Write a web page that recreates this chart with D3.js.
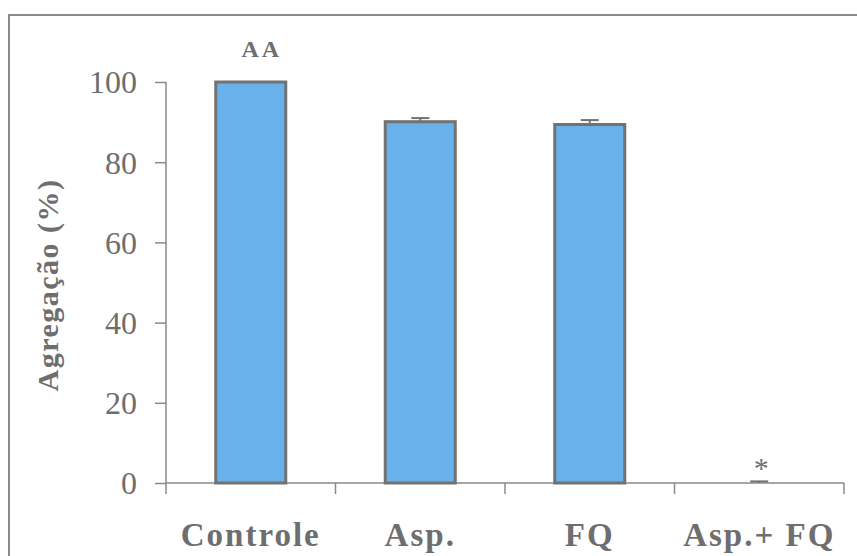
<!DOCTYPE html>
<html>
<head>
<meta charset="utf-8">
<script src="https://cdn.jsdelivr.net/npm/d3@7"></script>
<style>
  html, body { margin: 0; padding: 0; background: #fff; }
  svg { display: block; }
  text { font-family: "Liberation Serif", "Times New Roman", serif; fill: #6e6e6e; }
</style>
</head>
<body>
<svg id="chart" width="857" height="556"></svg>
<script>
// Platelet aggregation (%) per treatment group
const categories = ["Controle", "Asp.", "FQ", "Asp.+ FQ"];
const values = [100, 90.1, 89.4, 0];
const errors = [0, 0.9, 1.1, 0.4];
const marks = ["", "", "", "*"];
const yTicks = [0, 20, 40, 60, 80, 100];
const yTitle = "Agregação (%)";
const topLabel = "AA";

const svg = d3.select("#chart");
const plotLeft = 166, plotRight = 844, plotTop = 82, plotBottom = 483;

const x = d3.scaleBand()
  .domain(categories)
  .range([plotLeft, plotRight])
  .paddingInner(0.587)
  .paddingOuter(0.2935);

const y = d3.scaleLinear().domain([0, 100]).range([plotBottom, plotTop]);

// outer frame (top and left edges)
svg.append("path")
  .attr("d", "M9,556 V15 H857")
  .attr("fill", "none")
  .attr("stroke", "#8a8a8a")
  .attr("stroke-width", 2);

// y axis
const yAxis = svg.append("g")
  .attr("transform", `translate(${plotLeft},0)`)
  .call(d3.axisLeft(y).tickValues(yTicks).tickSize(11).tickPadding(18).tickFormat(d3.format("d")));
yAxis.select(".domain").remove();
yAxis.selectAll(".tick line").attr("stroke", "#8a8a8a").attr("stroke-width", 1.5);
yAxis.selectAll(".tick text")
  .attr("font-size", 32)
  .attr("font-family", "Liberation Serif, serif")
  .attr("fill", "#6e6e6e")
  .attr("dy", "0.34em");
yAxis.append("line")
  .attr("x1", 0).attr("x2", 0)
  .attr("y1", y(100)).attr("y2", plotBottom + 11)
  .attr("stroke", "#8a8a8a").attr("stroke-width", 1.5);

// x axis baseline with ticks at the category boundaries
const boundaries = categories.map(c => x(c) + x.bandwidth() / 2 + x.step() / 2);
svg.append("line")
  .attr("x1", plotLeft).attr("x2", plotRight)
  .attr("y1", plotBottom).attr("y2", plotBottom)
  .attr("stroke", "#8a8a8a").attr("stroke-width", 1.5);
svg.selectAll(".xtick")
  .data(boundaries)
  .join("line")
  .attr("class", "xtick")
  .attr("x1", d => d).attr("x2", d => d)
  .attr("y1", plotBottom).attr("y2", plotBottom + 11)
  .attr("stroke", "#8a8a8a").attr("stroke-width", 1.5);

// category labels
svg.selectAll(".xlabel")
  .data(categories)
  .join("text")
  .attr("class", "xlabel")
  .attr("x", d => x(d) + x.bandwidth() / 2)
  .attr("y", 546)
  .attr("text-anchor", "middle")
  .attr("font-size", 33)
  .attr("font-weight", "bold")
  .attr("letter-spacing", 2)
  .text(d => d);

// bars
const rows = categories.map((c, i) => ({ c, v: values[i], e: errors[i], m: marks[i] }));
svg.selectAll(".bar")
  .data(rows.filter(d => d.v > 0))
  .join("rect")
  .attr("class", "bar")
  .attr("x", d => x(d.c))
  .attr("y", d => y(d.v))
  .attr("width", x.bandwidth())
  .attr("height", d => y(0) - y(d.v))
  .attr("fill", "#68b1ea")
  .attr("stroke", "#727272")
  .attr("stroke-width", 3);

// error bars (upper half)
const capHalf = 9;
const eb = svg.selectAll(".err")
  .data(rows.filter(d => d.e > 0))
  .join("g")
  .attr("class", "err")
  .attr("stroke", "#727272")
  .attr("stroke-width", 2);
eb.append("line")
  .attr("x1", d => x(d.c) + x.bandwidth() / 2)
  .attr("x2", d => x(d.c) + x.bandwidth() / 2)
  .attr("y1", d => y(d.v))
  .attr("y2", d => y(d.v + d.e));
eb.append("line")
  .attr("x1", d => x(d.c) + x.bandwidth() / 2 - capHalf)
  .attr("x2", d => x(d.c) + x.bandwidth() / 2 + capHalf)
  .attr("y1", d => y(d.v + d.e))
  .attr("y2", d => y(d.v + d.e));

// significance marks
svg.selectAll(".mark")
  .data(rows.filter(d => d.m))
  .join("text")
  .attr("class", "mark")
  .attr("x", d => x(d.c) + x.bandwidth() / 2 + 2)
  .attr("y", d => y(d.v + d.e) - 3)
  .attr("text-anchor", "middle")
  .attr("font-size", 30)
  .text(d => d.m);

// stimulus label above the control bar
svg.append("text")
  .attr("x", x(categories[0]) + x.bandwidth() / 2 + 11)
  .attr("y", 57)
  .attr("text-anchor", "middle")
  .attr("font-size", 24)
  .attr("font-weight", "bold")
  .attr("letter-spacing", 3)
  .text(topLabel);

// y axis title
svg.append("text")
  .attr("transform", `translate(58,${285}) rotate(-90)`)
  .attr("text-anchor", "middle")
  .attr("font-size", 30)
  .attr("font-weight", "bold")
  .attr("letter-spacing", 1.5)
  .text(yTitle);
</script>
</body>
</html>
